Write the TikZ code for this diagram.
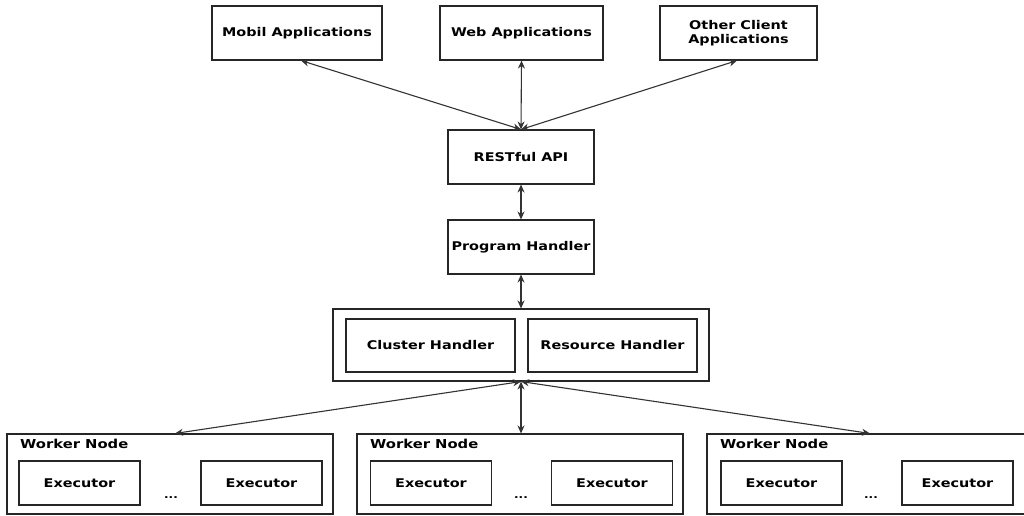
\documentclass[tikz,border=0pt]{standalone}
\usepackage{fontspec}
\setmainfont{DejaVu Sans}[FakeStretch=1.2]
\usetikzlibrary{arrows.meta}
\begin{document}
\begin{tikzpicture}[x=1pt,y=-1pt,
  box/.style={draw=black!85, line width=1.1pt, inner sep=0pt, align=center,
    font=\bfseries\fontsize{12}{14.5}\selectfont},
  lbl/.style={inner sep=0pt, anchor=west, font=\bfseries\fontsize{12.3}{14}\selectfont},
  dots/.style={inner sep=0pt, font=\bfseries\fontsize{10}{12}\selectfont},
  conn/.style={draw=black!80, line width=1.1pt, {Stealth[length=8pt,width=7pt]}-{Stealth[length=8pt,width=7pt]}}]
\useasboundingbox (0,0) rectangle (1024,515);
\fill[white] (0,0) rectangle (1024,515);
% top row
\node[box, minimum width=170, minimum height=54] (mobil) at (297,33) {Mobil Applications};
\node[box, minimum width=163, minimum height=54] (web) at (521.5,33) {Web Applications};
\node[box, minimum width=157, minimum height=54] (other) at (738.5,33) {Other Client\\Applications};
% middle
\node[box, minimum width=146, minimum height=54] (rest) at (521,157) {RESTful API};
\node[box, minimum width=146, minimum height=54] (prog) at (521,247) {Program Handler};
\node[box, minimum width=376, minimum height=72] (outer) at (521,345) {};
\node[box, minimum width=169, minimum height=53] (cluster) at (430.5,345.5) {Cluster Handler};
\node[box, minimum width=169, minimum height=53] (resource) at (612.5,345.5) {Resource Handler};
% workers
\node[box, minimum width=326, minimum height=80] (w1) at (170,474) {};
\node[box, minimum width=326, minimum height=80] (w2) at (520,474) {};
\node[box, minimum width=326, minimum height=80] (w3) at (870,474) {};
\node[lbl] (w1l) at (20,444) {Worker Node};
\node[lbl] (w2l) at (370,444) {Worker Node};
\node[lbl] (w3l) at (720,444) {Worker Node};
\node[box, minimum width=121, minimum height=44] (e11) at (79.5,483) {Executor};
\node[box, minimum width=121, minimum height=44] (e12) at (261.5,483) {Executor};
\node[box, minimum width=121, minimum height=44] (e21) at (431,483) {Executor};
\node[box, minimum width=121, minimum height=44] (e22) at (612,483) {Executor};
\node[box, minimum width=121, minimum height=44] (e31) at (781.5,483) {Executor};
\node[box, minimum width=111, minimum height=44] (e32) at (957.5,483) {Executor};
\node[dots] (d1) at (171,498) {...};
\node[dots] (d2) at (521,498) {...};
\node[dots] (d3) at (871,498) {...};
% connectors
\coordinate (rtop) at (rest.north);
\draw[conn] (rtop) -- (mobil.south -| 301,0);
\draw[conn] (rtop) -- (web.south);
\draw[conn] (rtop) -- (other.south -| 737,0);
\draw[conn] (rest.south) -- (prog.north);
\draw[conn] (prog.south) -- (outer.north);
\coordinate (obot) at (outer.south);
\draw[conn] (obot) -- (w1.north -| 175,0);
\draw[conn] (obot) -- (w2.north -| 521,0);
\draw[conn] (obot) -- (w3.north -| 870,0);
\end{tikzpicture}
\end{document}
